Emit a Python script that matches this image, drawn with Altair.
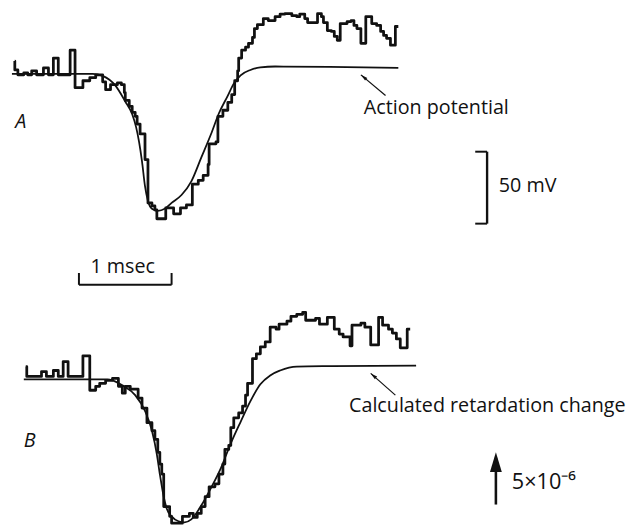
import altair as alt
import pandas as pd

# ---------------- Panel A (time in msec, potential in mV) ----------------
a_step_t = [0.030, 0.031, 0.064, 0.128, 0.170, 0.213, 0.266, 0.340, 0.394, 0.447, 0.500, 0.628, 0.681,
            0.766, 0.840, 0.904, 0.979, 1.011, 1.064, 1.138, 1.181, 1.213, 1.223, 1.266, 1.298, 1.330,
            1.351, 1.383, 1.436, 1.468, 1.511, 1.543, 1.564, 1.660, 1.745, 1.819, 1.883, 1.947, 2.011,
            2.064, 2.117, 2.128, 2.202, 2.223, 2.277, 2.330, 2.372, 2.404, 2.436, 2.447, 2.479, 2.521,
            2.553, 2.596, 2.617, 2.649, 2.713, 2.766, 2.840, 2.894, 2.947, 3.021, 3.074, 3.106, 3.160,
            3.191, 3.298, 3.340, 3.362, 3.404, 3.447, 3.479, 3.511, 3.543, 3.617, 3.660, 3.691, 3.723,
            3.766, 3.819, 3.883, 3.936, 3.979, 4.011, 4.043, 4.085, 4.138, 4.170]
a_step_mv = [8.9, 2.7, -0.7, 0.7, -0.7, 2.1, -0.7, 4.1, -0.7, 11.0, -0.7, 16.4, -9.6,
             -4.8, -2.7, -0.7, -5.5, -11.0, -7.5, -6.2, -7.5, -13.0, -18.5, -22.6, -26.7, -29.5,
             -34.9, -41.8, -59.6, -89.7, -91.8, -94.5, -100.7, -93.2, -97.3, -93.2, -91.1, -76.7, -74.0,
             -70.5, -63.0, -48.6, -47.3, -29.5, -25.3, -19.9, -14.4, -4.8, 2.1, 11.0, 16.4, 18.5,
             21.2, 25.3, 31.5, 34.2, 38.4, 37.0, 39.7, 41.5, 41.8, 40.4, 39.7, 41.5, 38.4,
             35.6, 41.8, 39.7, 35.6, 30.1, 29.5, 26.0, 23.3, 34.9, 36.3, 37.0, 33.6, 31.5,
             21.2, 39.7, 34.9, 33.6, 29.5, 26.7, 24.7, 19.9, 32.9, 32.9]

a_ap_t = [0.0, 0.872, 0.979, 1.117, 1.223, 1.298, 1.340, 1.372, 1.404, 1.436, 1.468, 1.511, 1.574,
          1.649, 1.723, 1.830, 1.936, 2.043, 2.149, 2.234, 2.330, 2.394, 2.468, 2.574, 2.681, 2.840,
          3.426, 4.170]
a_ap_mv = [0.0, 0.0, -1.4, -8.2, -19.2, -28.1, -37.0, -47.3, -61.0, -78.1, -88.4, -93.8, -95.2,
           -93.8, -89.7, -84.2, -74.7, -58.2, -41.8, -27.4, -15.1, -6.8, -1.0, 2.7, 4.5, 5.1,
           4.8, 4.1]

# ---------------- Panel B (time in msec, retardation in units of 1e-6) ----------------
b_step_t = [0.149, 0.160, 0.319, 0.372, 0.447, 0.500, 0.553, 0.606, 0.766, 0.840, 0.904, 0.947, 1.011,
            1.085, 1.149, 1.191, 1.223, 1.277, 1.362, 1.404, 1.457, 1.511, 1.543, 1.574, 1.596, 1.617,
            1.638, 1.702, 1.723, 1.840, 1.915, 1.957, 2.000, 2.043, 2.085, 2.128, 2.191, 2.234, 2.277,
            2.298, 2.340, 2.362, 2.394, 2.447, 2.489, 2.521, 2.543, 2.596, 2.638, 2.681, 2.734, 2.787,
            2.851, 2.883, 2.968, 3.011, 3.074, 3.138, 3.170, 3.277, 3.319, 3.404, 3.479, 3.532, 3.574,
            3.649, 3.670, 3.766, 3.809, 3.872, 3.957, 4.000, 4.064, 4.106, 4.149, 4.191, 4.266, 4.298]
b_step_u = [1.23, 0.28, 0.75, 0.28, 0.85, 0.28, 1.70, 0.28, 2.26, -1.04, -0.66, -0.38, -0.09,
            0.09, -0.66, -1.32, -0.66, -0.94, -1.79, -2.74, -4.15, -4.91, -5.75, -6.98, -8.11, -9.06,
            -12.17, -13.11, -13.77, -13.11, -12.83, -13.21, -12.83, -12.17, -11.23, -10.28, -10.00, -9.06, -8.11,
            -6.70, -6.32, -4.62, -3.68, -3.21, -2.55, -1.51, -0.38, 1.98, 2.45, 3.11, 3.58, 5.00,
            4.81, 5.28, 5.57, 6.04, 6.23, 6.42, 5.66, 5.85, 5.28, 5.94, 4.81, 4.34, 4.06,
            3.21, 5.19, 5.38, 5.00, 3.30, 5.94, 5.19, 4.81, 4.43, 3.87, 3.02, 4.81, 4.81]

b_calc_t = [0.128, 1.032, 1.085, 1.191, 1.330, 1.436, 1.511, 1.564, 1.596, 1.638, 1.670, 1.723, 1.798,
            1.862, 1.936, 2.043, 2.149, 2.255, 2.362, 2.468, 2.574, 2.681, 2.787, 2.894, 3.074, 3.457,
            4.362]
b_calc_u = [0.0, 0.0, -0.09, -0.57, -1.51, -3.02, -4.91, -7.17, -9.06, -11.23, -12.36, -13.11, -13.58,
            -13.68, -13.40, -12.08, -10.38, -8.49, -6.13, -4.06, -2.08, -0.47, 0.38, 0.85, 1.23, 1.27,
            1.32]

# ---------------- annotations ----------------
a_letter = ["A"]
a_letter_t = [0.096]
a_letter_v = [-33.6]
a_label = ["Action potential", "50 mV"]
a_label_t = [3.798, 5.255]
a_label_v = [-24.0, -78.1]
msec_label = ["1 msec"]
msec_label_t = [1.195]
msec_label_v = [-134.2]
# segments: t, v, t2, v2
a_seg_t = [4.032, 5.128, 5.000, 5.000, 0.723, 0.723, 1.723]
a_seg_v = [-15.1, -54.1, -54.1, -104.1, -146.6, -146.6, -146.6]
a_seg_t2 = [3.766, 5.128, 5.128, 5.128, 1.723, 0.723, 1.723]
a_seg_v2 = [-0.7, -104.1, -54.1, -104.1, -146.6, -138.4, -138.4]
a_head_t = [3.766]
a_head_v = [-0.7]

b_letter = ["B"]
b_letter_t = [0.191]
b_letter_v = [-5.94]
b_label = ["Calculated retardation change"]
b_label_t = [3.638]
b_label_v = [-2.55]
b_unit_label = ["5\u00d710\u207b\u2076"]
b_unit_t = [5.394]
b_unit_v = [-9.81]
b_seg_t = [4.138, 5.223]
b_seg_v = [-1.51, -11.98]
b_seg_t2 = [3.872, 5.223]
b_seg_v2 = [0.57, -7.5]
b_head_t = [3.872]
b_head_v = [0.57]
b_bighead_t = [5.223]
b_bighead_v = [-6.98]

X_DOM = [0, 6.574]
A_DOM = [-155.48, 43.15]
B_DOM = [-13.87, 7.83]
FONT = "Open Sans"
INK = "#111111"


def encs(dom):
    return dict(
        x=alt.X("t:Q", scale=alt.Scale(domain=X_DOM, nice=False, zero=False), axis=None),
        y=alt.Y("v:Q", scale=alt.Scale(domain=dom, nice=False, zero=False), axis=None),
    )


def panel(step_t, step_v, smooth_t, smooth_v, letter, letter_t, letter_v,
          lab, lab_t, lab_v, seg_t, seg_v, seg_t2, seg_v2, head_t, head_v, dom, h, extra=None):
    e = encs(dom)
    step = alt.Chart(pd.DataFrame({"t": step_t, "v": step_v})).mark_line(
        interpolate="step-after", color=INK, strokeWidth=2.8, strokeJoin="round"
    ).encode(**e)
    smooth = alt.Chart(pd.DataFrame({"t": smooth_t, "v": smooth_v})).mark_line(
        interpolate="monotone", color=INK, strokeWidth=1.8
    ).encode(**e)
    segs = alt.Chart(pd.DataFrame({"t": seg_t, "v": seg_v, "t2": seg_t2, "v2": seg_v2})).mark_rule(
        color=INK, strokeWidth=1.2
    ).encode(x2="t2:Q", y2="v2:Q", **e)
    head = alt.Chart(pd.DataFrame({"t": head_t, "v": head_v})).mark_point(
        shape="M0,0L0.5,2L-0.5,2Z", size=49, angle=310, filled=True, color=INK, opacity=1
    ).encode(**e)
    let = alt.Chart(pd.DataFrame({"t": letter_t, "v": letter_v, "s": letter})).mark_text(
        font=FONT, fontSize=20, fontStyle="italic", color=INK, align="center", baseline="middle"
    ).encode(text="s:N", **e)
    labs = alt.Chart(pd.DataFrame({"t": lab_t, "v": lab_v, "s": lab})).mark_text(
        font=FONT, fontSize=20, color=INK, align="left", baseline="middle"
    ).encode(text="s:N", **e)
    layers = [step, smooth, segs, head, let, labs]
    if extra is not None:
        layers += extra(e)
    return alt.layer(*layers).properties(width=618, height=h)


def extra_a(e):
    bar = alt.Chart(pd.DataFrame({"t": a_seg_t[1:2], "v": a_seg_v[1:2], "t2": a_seg_t2[1:2],
                                  "v2": a_seg_v2[1:2]})).mark_rule(color=INK, strokeWidth=2.4).encode(
        x2="t2:Q", y2="v2:Q", **e)
    ticks = alt.Chart(pd.DataFrame({"t": a_seg_t[2:], "v": a_seg_v[2:], "t2": a_seg_t2[2:],
                                    "v2": a_seg_v2[2:]})).mark_rule(color=INK, strokeWidth=2.0).encode(
        x2="t2:Q", y2="v2:Q", **e)
    ms = alt.Chart(pd.DataFrame({"t": msec_label_t, "v": msec_label_v, "s": msec_label})).mark_text(
        font=FONT, fontSize=20, color=INK, align="center", baseline="middle"
    ).encode(text="s:N", **e)
    return [bar, ticks, ms]


def extra_b(e):
    shaft = alt.Chart(pd.DataFrame({"t": b_seg_t[1:], "v": b_seg_v[1:], "t2": b_seg_t2[1:],
                                    "v2": b_seg_v2[1:]})).mark_rule(color=INK, strokeWidth=2.6).encode(
        x2="t2:Q", y2="v2:Q", **e)
    big = alt.Chart(pd.DataFrame({"t": b_bighead_t, "v": b_bighead_v})).mark_point(
        shape="M0,0L0.6,2L-0.6,2Z", size=400, filled=True, color=INK, opacity=1
    ).encode(**e)
    unit = alt.Chart(pd.DataFrame({"t": b_unit_t, "v": b_unit_v, "s": b_unit_label})).mark_text(
        font=FONT, fontSize=22, color=INK, align="left", baseline="middle"
    ).encode(text="s:N", **e)
    return [shaft, big, unit]


panel_a = panel(a_step_t, a_step_mv, a_ap_t, a_ap_mv, a_letter, a_letter_t, a_letter_v,
                a_label, a_label_t, a_label_v, a_seg_t[:1], a_seg_v[:1], a_seg_t2[:1], a_seg_v2[:1],
                a_head_t, a_head_v, A_DOM, 290, extra_a)
panel_b = panel(b_step_t, b_step_u, b_calc_t, b_calc_u, b_letter, b_letter_t, b_letter_v,
                b_label, b_label_t, b_label_v, b_seg_t[:1], b_seg_v[:1], b_seg_t2[:1], b_seg_v2[:1],
                b_head_t, b_head_v, B_DOM, 230, extra_b)

chart = alt.vconcat(panel_a, panel_b, spacing=0).properties(
    padding=0, background="white"
).configure_view(stroke=None, strokeWidth=0)

chart.save("out.html", embed_options={"renderer": "svg", "actions": False})
